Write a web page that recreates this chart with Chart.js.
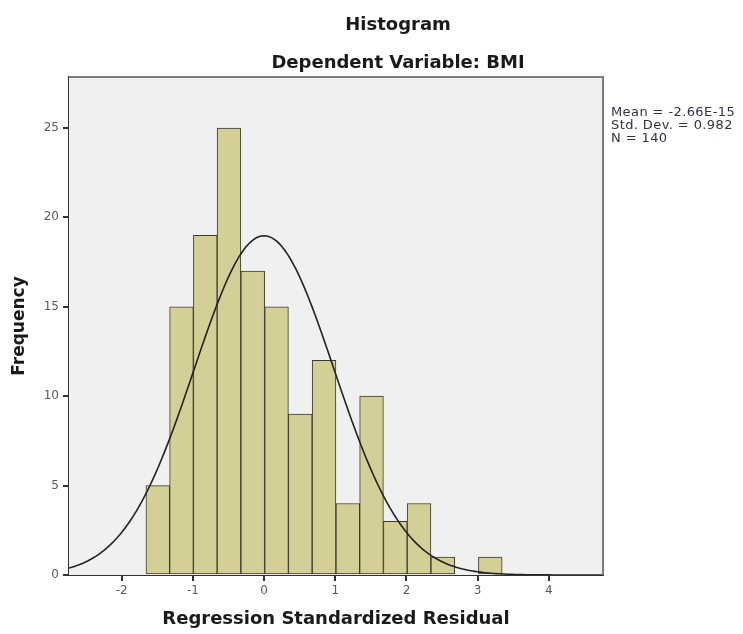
<!DOCTYPE html>
<html>
<head>
<meta charset="utf-8">
<script src="https://cdn.jsdelivr.net/npm/chart.js@4.4.1/dist/chart.umd.min.js"></script>
<style>
  html, body { margin: 0; padding: 0; background: #ffffff; }
  #wrap { width: 743px; height: 634px; position: relative; }
</style>
</head>
<body>
<div id="wrap"><canvas id="histChart"></canvas></div>
<script>
// Histogram of regression standardized residuals (dependent variable BMI)
const binCenters = [-1.493, -1.160, -0.826, -0.493, -0.159, 0.175, 0.508, 0.842,
                    1.176, 1.509, 1.843, 2.176, 2.510, 2.844, 3.177];
const binCounts = [5, 15, 19, 25, 17, 15, 9, 12, 4, 10, 3, 4, 1, 0, 1];
const binWidth = 0.3336;

// summary statistics shown next to the plot
const statMean = -2.66e-15;
const statSd = 0.982;
const statN = 140;
const statLines = ["Mean = -2.66E-15", "Std. Dev. = 0.982", "N = 140"];

const xTicks = [-2, -1, 0, 1, 2, 3, 4];
const yTicks = [0, 5, 10, 15, 20, 25];
const xRange = [-2.74, 4.76];
const yRange = [0, 27.85];

// normal curve scaled to the histogram (N * bin width * density)
function normalCurve() {
    const pts = [];
    const steps = 200;
    for (let i = 0; i <= steps; i++) {
        const x = xRange[0] + (xRange[1] - xRange[0]) * i / steps;
        const z = (x - statMean) / statSd;
        const y = statN * binWidth * Math.exp(-0.5 * z * z) / (statSd * Math.sqrt(2 * Math.PI));
        pts.push({ x: x, y: y });
    }
    return pts;
}

const FONT = "'DejaVu Sans', sans-serif";

// grey plot background, frame and the text around the plot
const framePlugin = {
    id: "frame",
    beforeDatasetsDraw(chart) {
        const { ctx, chartArea: a } = chart;
        ctx.save();
        ctx.fillStyle = "#f0f0f0";
        ctx.fillRect(a.left, a.top, a.right - a.left, a.bottom - a.top);
        ctx.restore();
    },
    afterDraw(chart) {
        const { ctx, chartArea: a } = chart;
        ctx.save();
        ctx.strokeStyle = "#7c7c7c";
        ctx.lineWidth = 2;
        ctx.beginPath();
        ctx.moveTo(a.left, a.top);
        ctx.lineTo(a.right, a.top);
        ctx.lineTo(a.right, a.bottom);
        ctx.stroke();

        // titles
        ctx.fillStyle = "#1a1a1a";
        ctx.textAlign = "center";
        ctx.textBaseline = "alphabetic";
        ctx.font = "bold 18px " + FONT;
        ctx.fillText("Histogram", 398, 30);
        ctx.fillText("Dependent Variable: BMI", 398, 68);

        // statistics block
        ctx.fillStyle = "#2e3444";
        ctx.textAlign = "left";
        ctx.font = "13px " + FONT;
        if ("letterSpacing" in ctx) ctx.letterSpacing = "0.4px";
        statLines.forEach((t, i) => ctx.fillText(t, a.right + 8, 116 + i * 13));
        ctx.restore();
    }
};

new Chart(document.getElementById("histChart"), {
    type: "bar",
    data: {
        datasets: [
            {
                type: "line",
                data: normalCurve(),
                borderColor: "#222222",
                borderWidth: 1.6,
                pointRadius: 0,
                fill: false,
                tension: 0,
                order: 1
            },
            {
                type: "bar",
                data: binCenters.map((c, i) => ({ x: c, y: binCounts[i] })),
                backgroundColor: "#d4cf97",
                borderColor: "#3b3a2c",
                borderWidth: 1,
                borderSkipped: false,
                categoryPercentage: 1,
                barPercentage: 1,
                grouped: false,
                order: 2
            }
        ]
    },
    options: {
        responsive: true,
        maintainAspectRatio: false,
        animation: false,
        layout: { padding: { top: 77, right: 140, left: 0, bottom: 0 } },
        plugins: {
            legend: { display: false },
            tooltip: { enabled: false }
        },
        scales: {
            x: {
                type: "linear",
                min: xRange[0],
                max: xRange[1],
                offset: false,
                afterBuildTicks: (s) => { s.ticks = xTicks.map(v => ({ value: v })); },
                afterFit: (s) => { s.height = 59; },
                ticks: {
                    color: "#555a66",
                    font: { family: FONT, size: 12 },
                    padding: 3
                },
                grid: {
                    drawOnChartArea: false,
                    drawTicks: true,
                    tickLength: 6,
                    color: "#333333",
                    lineWidth: 2,
                    offset: false
                },
                border: { color: "#333333", width: 2 },
                title: {
                    display: true,
                    text: "Regression Standardized Residual",
                    color: "#1a1a1a",
                    font: { family: FONT, size: 18, weight: "bold" },
                    padding: { top: 4, bottom: 4 }
                }
            },
            y: {
                min: yRange[0],
                max: yRange[1],
                afterBuildTicks: (s) => { s.ticks = yTicks.map(v => ({ value: v })); },
                afterFit: (s) => { s.width = 69; },
                ticks: {
                    color: "#555a66",
                    font: { family: FONT, size: 12 },
                    padding: 4
                },
                grid: {
                    drawOnChartArea: false,
                    drawTicks: true,
                    tickLength: 6,
                    color: "#333333",
                    lineWidth: 2
                },
                border: { color: "#333333", width: 2 },
                title: {
                    display: true,
                    text: "Frequency",
                    color: "#1a1a1a",
                    font: { family: FONT, size: 17, weight: "bold" },
                    padding: { top: 9, bottom: 0 }
                }
            }
        }
    },
    plugins: [framePlugin]
});
</script>
</body>
</html>
